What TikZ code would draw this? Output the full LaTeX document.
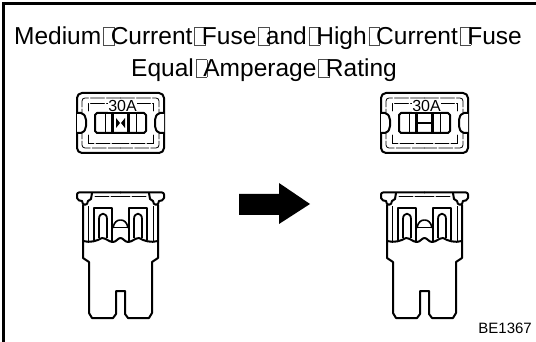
\documentclass[tikz,border=0pt]{standalone}
\usepackage{fontspec}
\setmainfont{Liberation Sans}
\newcommand{\tofu}{\hspace{2pt}\rlap{\color{black!70}\fboxrule=0.7pt\fboxsep=0pt\fbox{\rule{0pt}{17pt}\hspace{10pt}}}\hspace{7.5pt}}
% Upper view of the fuse, left half
\newcommand{\casehalf}{
    \draw[thinline, rounded corners=3] (120.5,98) -- (82,98) -- (82,148) -- (120.5,148);
    \draw[thinline] (120.5,103) -- (88,103) -- (88,111);
    \draw[thinline] (88,135) -- (88,143) -- (120.5,143);
    \filldraw[fuseline, fill=white, rounded corners=2] (77,113) -- (83,113) -- (86,118) -- (86,128) -- (83,133) -- (77,133);
    \draw[fuseline] (120.5,113) -- (97,113) -- (95,115) -- (95,131) -- (97,133) -- (120.5,133);
    \draw[line width=1] (105,113) -- (105,133);
    \draw[line width=2.4] (112.5,113) -- (112.5,133);
}
% Side view of the fuse, left half
\newcommand{\bodyhalf}{
    \draw[fuseline, rounded corners=2] (120.5,192.5) -- (77,192.5) -- (77,200) -- (82,201);
    \draw[fuseline] (82,201) .. controls (82,206) and (88,206) .. (88,201) -- (91,199) -- (92,193);
    \draw[thinline] (95,196) -- (120.5,196);
    \draw[fuseline] (83,205) -- (83,258) -- (89,262) -- (89,313) -- (92,318) -- (113,318) -- (116,314) -- (116,291) -- (120.5,291);
    \draw[line width=0.8] (88,206) -- (88,241);
    \draw[fuseline] (94,240) -- (94,208) -- (112,208) -- (112,242);
    \draw[line width=1.8] (99,238) -- (99,219) .. controls (99,212) and (107,212) .. (107,219) -- (107,238);
    \draw[line width=2.6] (112,222) -- (112,242);
    \draw[fuseline] (83,241) .. controls (90,243) and (97,241) .. (102,238) .. controls (106,238) and (109,242) .. (113,242) .. controls (116,242) and (118,238) .. (120.5,238);
    \draw[line width=1] (112,228) -- (120.5,228);
    \draw[line width=1.6] (113,228) .. controls (114,222) and (117,220) .. (120.5,220);
}
\tikzset{
    fuseline/.style={line width=2, line join=round, line cap=round},
    thinline/.style={line width=0.8, dash pattern=on 14 off 2, line cap=round},
    mirror/.style={shift={(241,0)}, xscale=-1},
    pics/fusecase/.style={code={
        \draw[fuseline, rounded corners=5] (77,93) rectangle (164,153);
        \casehalf
        \begin{scope}[mirror] \casehalf \end{scope}
        \node[font=\fontsize{16}{16}\selectfont, inner sep=0, fill=white] at (122.5,106) {30A};
    }},
    pics/fusebody/.style={code={
        \bodyhalf
        \begin{scope}[mirror] \bodyhalf \end{scope}
    }},
}
\begin{document}
\begin{tikzpicture}[x=1pt, y=-1pt]
    \useasboundingbox (0,0) rectangle (536,342);

    % Frame
    \draw[line width=3] (3,342) -- (3,4) -- (536,4);

    % Title
    \node[font=\fontsize{24.5}{24.5}\selectfont, inner sep=0, anchor=base] (titleA) at (268,45)
        {Medium\tofu Current\tofu Fuse\tofu and\tofu High\tofu Current\tofu Fuse};
    \node[font=\fontsize{24.5}{24.5}\selectfont, inner sep=0, anchor=base] (titleB) at (264,77)
        {Equal\tofu Amperage\tofu Rating};

    % Fuse before
    \pic at (0,0) {fusecase};
    \pic at (0,0) {fusebody};
    \fill (116,118) -- (116,128) -- (120,123) -- cycle;
    \fill (125,118) -- (125,128) -- (121,123) -- cycle;

    % Fuse after
    \pic at (304,0) {fusecase};
    \pic at (304,0) {fusebody};
    \draw[line width=2.4] (417,123) -- (433,123);

    % Arrow
    \fill (239,194) -- (279,194) -- (279,183) -- (310,204) -- (279,224) -- (279,215) -- (239,215) -- cycle;

    % Figure code
    \node[font=\fontsize{15}{15}\selectfont, inner sep=0, anchor=base east] (code) at (532,333) {BE1367};
\end{tikzpicture}
\end{document}
